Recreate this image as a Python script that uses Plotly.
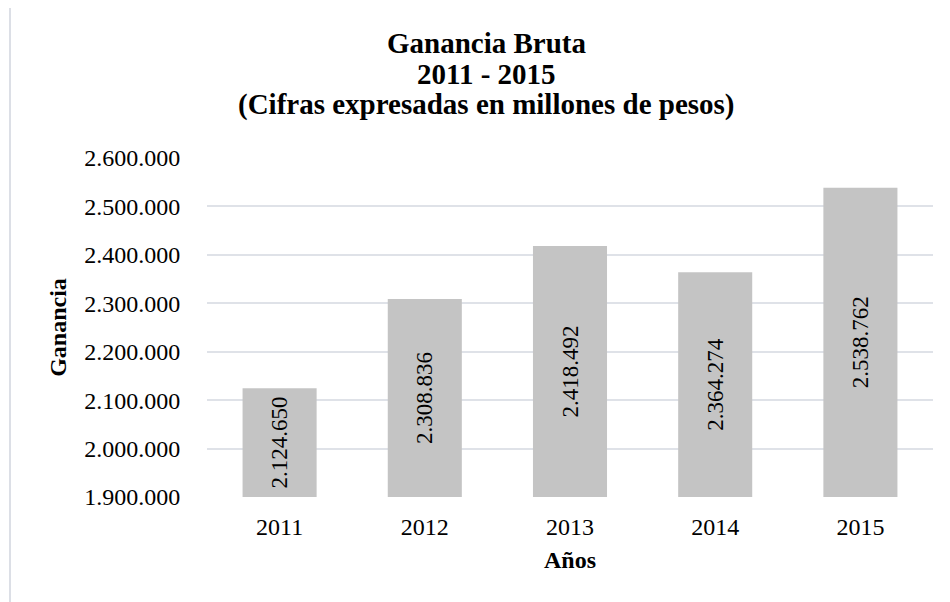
import plotly.graph_objects as go

years = ["2011", "2012", "2013", "2014", "2015"]
ganancia = [2124650, 2308836, 2418492, 2364274, 2538762]
y_ticks = [1900000, 2000000, 2100000, 2200000, 2300000, 2400000, 2500000, 2600000]
y_min, y_max = 1900000, 2600000

title_lines = ["Ganancia Bruta", "2011 - 2015", "(Cifras expresadas en millones de pesos)"]

FONT = "Liberation Serif, Times New Roman, serif"

# page offset of the figure in the screenshot (body margin)
OFF = 8
# plot area in screen pixels
SL, SR, ST, SB = 207, 933, 158, 497
L, T = SL - OFF, ST - OFF
R = 950 - (SR - OFF)
B = 602 - (SB - OFF)
PW, PH = 950 - L - R, 602 - T - B

def px_x(x):
    return (x - OFF - L) / PW

def px_y(y):
    return (602 - B - (y - OFF)) / PH

# bars start at the axis minimum (as in the original, whose axis starts at 1.900.000)
heights = [v - y_min for v in ganancia]

fig = go.Figure()
fig.add_trace(go.Bar(
    x=years, y=heights, base=y_min,
    customdata=ganancia,
    marker=dict(color="#c4c4c4", line=dict(width=0)),
    texttemplate="%{customdata:,d}",
    textposition="inside",
    insidetextanchor="middle",
    textangle=-90,
    constraintext="none",
    textfont=dict(family=FONT, size=23, color="#000000"),
    cliponaxis=False,
    hoverinfo="skip",
))

annotations = []
title_centers = [43, 74, 105]
for line, yc in zip(title_lines, title_centers):
    annotations.append(dict(
        text="<b>" + line + "</b>", x=px_x(486), y=px_y(yc),
        xref="paper", yref="paper", xanchor="center", yanchor="middle",
        showarrow=False, font=dict(family=FONT, size=29, color="#000000"),
    ))

fig.update_layout(
    width=950, height=602,
    margin=dict(l=L, r=R, t=T, b=B, autoexpand=False),
    paper_bgcolor="white", plot_bgcolor="white",
    separators=",.",
    bargap=0.49,
    showlegend=False,
    uniformtext=dict(minsize=23, mode="show"),
    annotations=annotations,
    font=dict(family=FONT, color="#000000"),
    xaxis=dict(
        type="category",
        showgrid=False, zeroline=False, showline=False,
        ticks="outside", ticklen=8, tickcolor="rgba(0,0,0,0)",
        tickfont=dict(family=FONT, size=24, color="#000000"),
        title=dict(text="<b>Años</b>", font=dict(family=FONT, size=24, color="#000000"), standoff=12),
        automargin=False,
    ),
    yaxis=dict(
        range=[y_min, y_max],
        tickvals=y_ticks, tickformat=",d",
        showgrid=True, gridcolor="#dfe2e8", gridwidth=2,
        zeroline=False, showline=False,
        ticks="outside", ticklen=21, tickcolor="rgba(0,0,0,0)",
        tickfont=dict(family=FONT, size=24, color="#000000"),
        title=dict(text="<b>Ganancia</b>", font=dict(family=FONT, size=24, color="#000000"), standoff=10),
        automargin=False,
    ),
    shapes=[dict(
        type="rect", xref="paper", yref="paper", layer="below",
        x0=px_x(10), x1=px_x(980), y0=px_y(640), y1=px_y(6),
        line=dict(color="#dcdfe6", width=2), fillcolor="rgba(0,0,0,0)",
    )],
)

fig.write_html("out.html")
